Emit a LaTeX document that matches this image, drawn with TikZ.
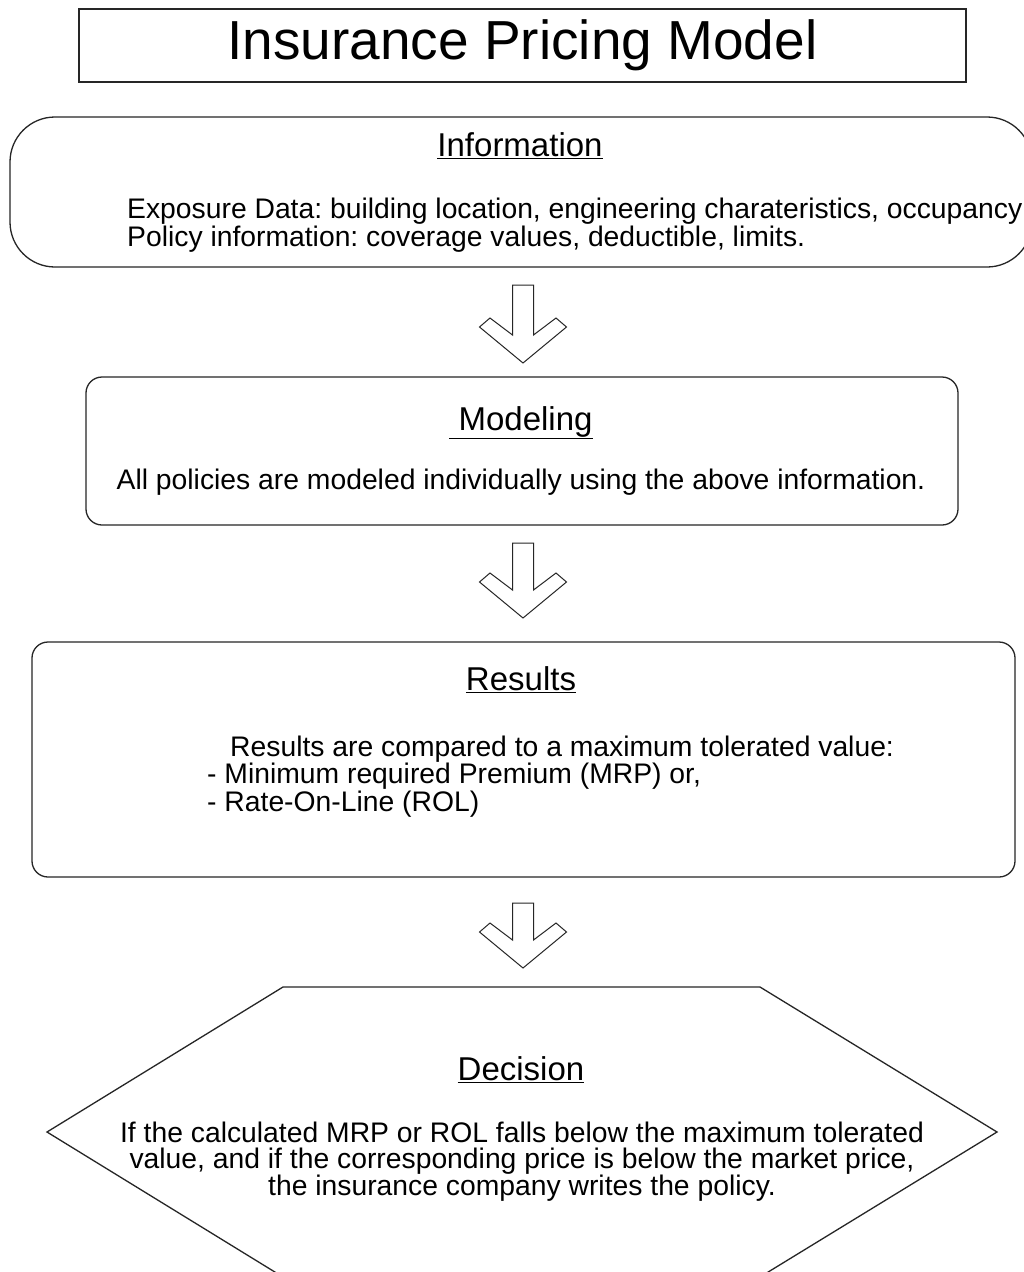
\documentclass[tikz,border=0pt]{standalone}
\usepackage{fontspec}
\setmainfont{Liberation Sans}
\usetikzlibrary{positioning,calc}
\frenchspacing

% outlined down arrow between two named points (shaft top, tip)
\newcommand{\hollowarrow}[2]{%
  \draw[arr] ($(#1)+(-10.5,0)$) -- ($(#1)+(10.5,0)$) -- ($(#2)+(10.5,-28)$)
    -- ($(#2)+(33,-45)$) -- ($(#2)+(43.5,-36)$) -- (#2)
    -- ($(#2)+(-43.5,-36)$) -- ($(#2)+(-33,-45)$) -- ($(#2)+(-10.5,-28)$) -- cycle;}

\begin{document}
\begin{tikzpicture}[x=1pt,y=-1pt]
\tikzstyle{box}=[draw=black!85,line width=1.3pt,inner sep=0pt]
\tikzstyle{arr}=[draw=black!85,line width=1pt,line join=miter]
\tikzstyle{head}=[inner sep=0pt,anchor=base,font=\fontsize{33}{35}\selectfont]
\tikzstyle{txt}=[inner sep=0pt,font=\fontsize{28.3}{29}\selectfont]
\useasboundingbox[fill=white] (0,0) rectangle (1023,1272);

% title
\node[box,minimum width=887,minimum height=73] (title) at (522.5,45.5)
  {\fontsize{55}{60}\selectfont Insurance Pricing Model};

% information
\node[box,rounded corners=45,minimum width=1022,minimum height=150] (info) at (521,192) {};
\node[head] (infohead) at (520,156) {\underline{Information}};
\node[txt,anchor=base west] (expo) at (127,218)
  {Exposure Data: building location, engineering charateristics, occupancy};
\node[txt,anchor=base west] (pol) at (127,246)
  {Policy information: coverage values, deductible, limits.};

% modeling
\node[box,rounded corners=16,minimum width=872,minimum height=148] (model) at (522,451) {};
\node[head] (modelhead) at (521,430) {\underline{\ Modeling}};
\node[txt,anchor=base] (modeltxt) at (521,489)
  {All policies are modeled individually using the above information.};

% results
\node[box,rounded corners=16,minimum width=983,minimum height=235] (res) at (523.5,759.5) {};
\node[head] (reshead) at (521,690) {\underline{Results}};
\node[txt,anchor=base west] (cmp) at (230,756)
  {Results are compared to a maximum tolerated value:};
\node[txt,anchor=base west] (mrp) at (207,783) {- Minimum required Premium (MRP) or,};
\node[txt,anchor=base west] (rol) at (207,811) {- Rate-On-Line (ROL)};

% decision
\draw[box] (283,987) coordinate (dec) -- (760,987) -- (997,1132) -- (760,1277)
  -- (283,1277) -- (47,1132) -- cycle;
\node[head] (dechead) at (521,1080) {\underline{Decision}};
\node[txt,anchor=base] (dec1) at (522,1142)
  {If the calculated MRP or ROL falls below the maximum tolerated};
\node[txt,anchor=base] (dec2) at (522,1168)
  {value, and if the corresponding price is below the market price,};
\node[txt,anchor=base] (dec3) at (522,1195)
  {the insurance company writes the policy.};

% arrows
\coordinate (a1s) at (523,285); \coordinate (a1e) at (523,363);
\coordinate (a2s) at (523,543); \coordinate (a2e) at (523,618);
\coordinate (a3s) at (523,903); \coordinate (a3e) at (523,968);
\hollowarrow{a1s}{a1e}
\hollowarrow{a2s}{a2e}
\hollowarrow{a3s}{a3e}
\end{tikzpicture}
\end{document}
